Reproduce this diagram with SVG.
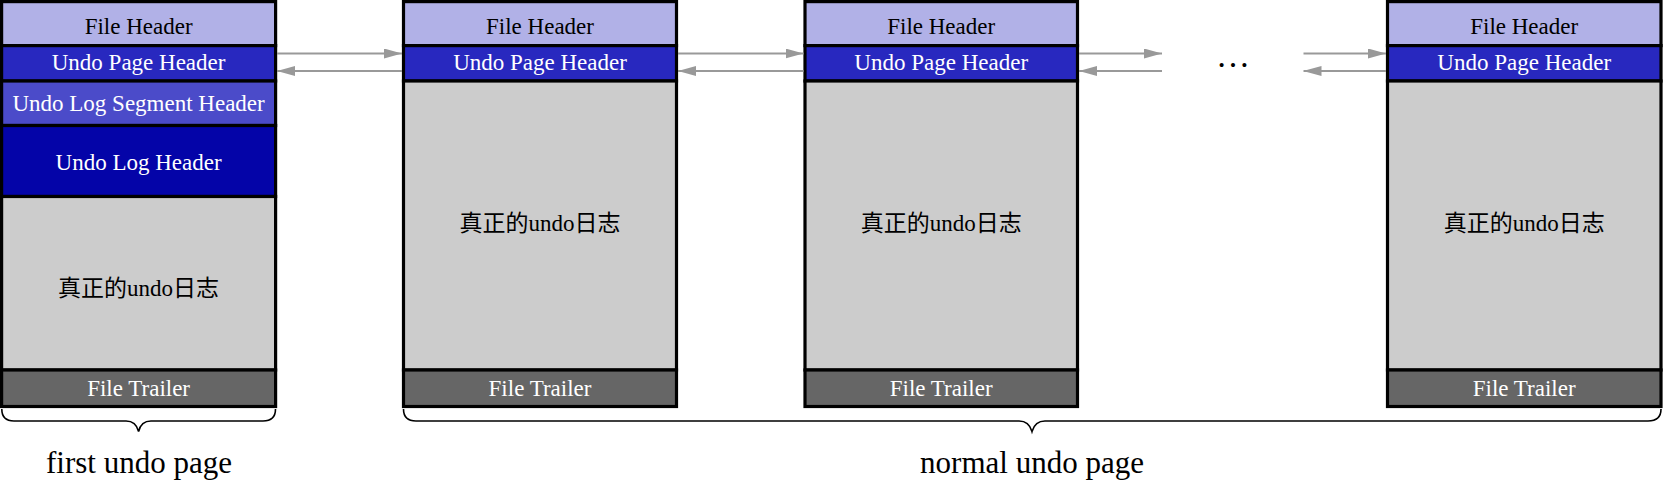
<svg xmlns="http://www.w3.org/2000/svg" width="1663" height="483" viewBox="0 0 1663 483">
<style>
.c{stroke:#000;stroke-width:3.2}
.fh{fill:#B1B1E7}
.uph{fill:#2828BF}
.ulsh{fill:#4B4BC9}
.ulh{fill:#0404A8}
.body{fill:#CCCCCC}
.ft{fill:#666666}
text{font-family:"Liberation Serif","Noto Sans CJK SC",serif;font-size:23px;text-anchor:middle}
.w{fill:#fff}
.k{fill:#000}
.lbl{font-size:31px}
.arr{stroke:#999;stroke-width:2;fill:none;marker-end:url(#ah)}
.brace{stroke:#000;stroke-width:1.6;fill:none}
</style>
<defs>
<marker id="ah" viewBox="0 0 18 10" refX="18" refY="5" markerWidth="18" markerHeight="10" markerUnits="userSpaceOnUse" orient="auto">
<path d="M0,0 L18,5 L0,10 Z" fill="#999"/>
</marker>
</defs>
<rect width="1663" height="483" fill="#fff"/>

<g id="first-page">
<rect class="c fh" x="1.6" y="1.6" width="274" height="44"/>
<rect class="c uph" x="1.6" y="45.6" width="274" height="35.4"/>
<rect class="c ulsh" x="1.6" y="81" width="274" height="44.5"/>
<rect class="c ulh" x="1.6" y="125.5" width="274" height="71"/>
<rect class="c body" x="1.6" y="196.5" width="274" height="173.5"/>
<rect class="c ft" x="1.6" y="370" width="274" height="36.5"/>
<text class="k" x="138.6" y="34">File Header</text>
<text class="w" x="138.6" y="70">Undo Page Header</text>
<text class="w" x="138.6" y="110.5">Undo Log Segment Header</text>
<text class="w" x="138.6" y="169.5">Undo Log Header</text>
<text class="k" x="138.6" y="296">真正的undo日志</text>
<text class="w" x="138.6" y="396">File Trailer</text>
</g>

<g id="page-2">
<rect class="c fh" x="403.5" y="1.6" width="273" height="44"/>
<rect class="c uph" x="403.5" y="45.6" width="273" height="35.4"/>
<rect class="c body" x="403.5" y="81" width="273" height="289"/>
<rect class="c ft" x="403.5" y="370" width="273" height="36.5"/>
<text class="k" x="540" y="34">File Header</text>
<text class="w" x="540" y="70">Undo Page Header</text>
<text class="k" x="540" y="230.5">真正的undo日志</text>
<text class="w" x="540" y="396">File Trailer</text>
</g>

<g id="page-3">
<rect class="c fh" x="805" y="1.6" width="272.5" height="44"/>
<rect class="c uph" x="805" y="45.6" width="272.5" height="35.4"/>
<rect class="c body" x="805" y="81" width="272.5" height="289"/>
<rect class="c ft" x="805" y="370" width="272.5" height="36.5"/>
<text class="k" x="941.2" y="34">File Header</text>
<text class="w" x="941.2" y="70">Undo Page Header</text>
<text class="k" x="941.2" y="230.5">真正的undo日志</text>
<text class="w" x="941.2" y="396">File Trailer</text>
</g>

<g id="page-n">
<rect class="c fh" x="1387.5" y="1.6" width="273.5" height="44"/>
<rect class="c uph" x="1387.5" y="45.6" width="273.5" height="35.4"/>
<rect class="c body" x="1387.5" y="81" width="273.5" height="289"/>
<rect class="c ft" x="1387.5" y="370" width="273.5" height="36.5"/>
<text class="k" x="1524.2" y="34">File Header</text>
<text class="w" x="1524.2" y="70">Undo Page Header</text>
<text class="k" x="1524.2" y="230.5">真正的undo日志</text>
<text class="w" x="1524.2" y="396">File Trailer</text>
</g>

<g id="ellipsis">
<text class="k" x="1233" y="67" style="font-size:34px">…</text>
</g>

<g id="connectors">
<line class="arr" x1="277" y1="53.5" x2="402" y2="53.5"/>
<line class="arr" x1="402" y1="71" x2="277" y2="71"/>
<line class="arr" x1="678" y1="53.5" x2="803.5" y2="53.5"/>
<line class="arr" x1="803.5" y1="71" x2="678" y2="71"/>
<line class="arr" x1="1079" y1="53.5" x2="1162" y2="53.5"/>
<line class="arr" x1="1162" y1="71" x2="1079" y2="71"/>
<line class="arr" x1="1303.5" y1="53.5" x2="1386" y2="53.5"/>
<line class="arr" x1="1386" y1="71" x2="1303.5" y2="71"/>
</g>

<g id="brace-first">
<path class="brace" d="M1.8,409 Q1.8,421 14,421 L126,421 Q136,421 138.6,431.5 Q141,421 151,421 L263,421 Q275.5,421 275.5,409"/>
<text class="k lbl" x="139" y="473">first undo page</text>
</g>

<g id="brace-normal">
<path class="brace" d="M403.5,409 Q403.5,421 416,421 L1019,421 Q1029,421 1032,431.5 Q1035,421 1045,421 L1648,421 Q1661,421 1661,409"/>
<text class="k lbl" x="1032" y="473">normal undo page</text>
</g>
</svg>
